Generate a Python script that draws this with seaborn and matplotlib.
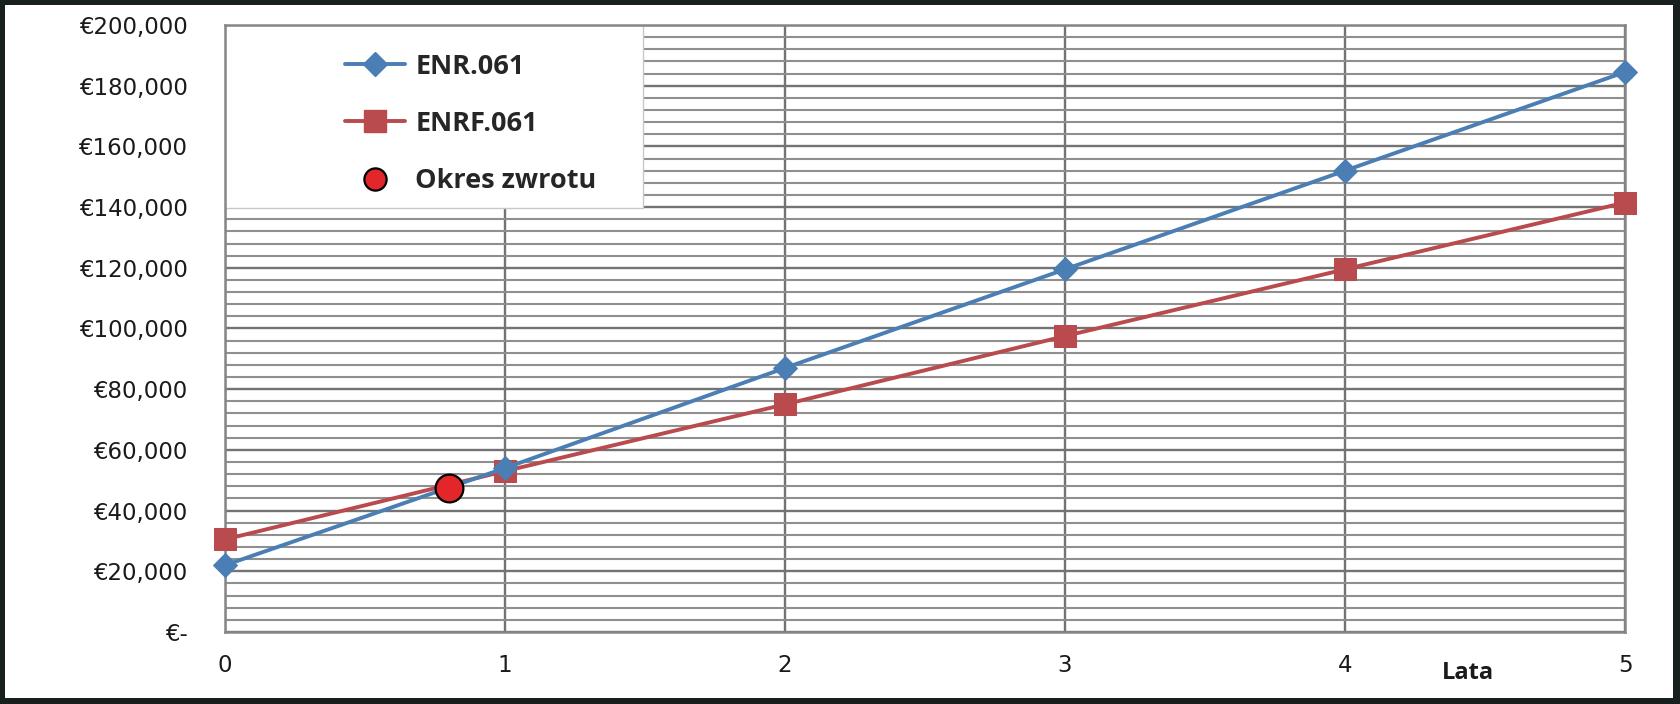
import numpy as np
import pandas as pd
import matplotlib
matplotlib.use("Agg")
import matplotlib.pyplot as plt
import matplotlib.ticker as mticker
from matplotlib.patches import Rectangle
from matplotlib.lines import Line2D
import seaborn as sns

years = [0, 1, 2, 3, 4, 5]
enr = [22000, 54000, 87000, 119500, 152000, 184500]
enrf = [30500, 53000, 75000, 97500, 119500, 141500]
payback_x = [0.8]
payback_y = [47600]

BLUE = "#4a7eb4"
RED = "#b94b4e"
DOT = "#e3262a"
FRAME = "#17201f"

sns.set_theme(style="white")
plt.rcParams["font.family"] = ["DejaVu Sans"]
plt.rcParams["font.sans-serif"] = ["DejaVu Sans"]

fig = plt.figure(figsize=(16.8, 7.04), dpi=100, facecolor=FRAME)
fig.patches.append(Rectangle((5 / 1680, 6 / 704), 1 - 12 / 1680, 1 - 11 / 704,
                             transform=fig.transFigure, facecolor="white",
                             edgecolor="none", zorder=-5))
ax = fig.add_axes([225 / 1680, 72 / 704, 1400 / 1680, 607 / 704])
ax.set_facecolor("white")
ax.set_axisbelow(True)

df = pd.DataFrame({"Lata": years, "ENR.061": enr, "ENRF.061": enrf})
sns.lineplot(data=df, x="Lata", y="ENR.061", ax=ax, color=BLUE, linewidth=2.8,
             marker="D", markersize=12.5, markeredgecolor=BLUE, clip_on=False, zorder=4)
sns.lineplot(data=df, x="Lata", y="ENRF.061", ax=ax, color=RED, linewidth=2.8,
             marker="s", markersize=16, markeredgecolor=RED, clip_on=False, zorder=3)
sns.scatterplot(x=payback_x, y=payback_y, ax=ax, s=400, color=DOT,
                edgecolor="black", linewidth=1.6, zorder=5)

ax.set_xlim(0, 5)
ax.set_ylim(0, 200000)
ax.set_xticks(years)
ax.yaxis.set_major_locator(mticker.MultipleLocator(20000))
ax.yaxis.set_minor_locator(mticker.MultipleLocator(4000))
ax.yaxis.set_major_formatter(mticker.FuncFormatter(
    lambda v, p: "€-" if v == 0 else f"€{int(v):,}"))
ax.grid(True, which="major", axis="both", color="#737373", linewidth=1.7)
ax.grid(True, which="minor", axis="y", color="#8f8f8f", linewidth=1.5)
ax.tick_params(axis="y", which="both", length=0, pad=27, labelsize=16.5, colors="#1a1a1a")
ax.tick_params(axis="x", length=0, pad=16, labelsize=16.5, colors="#1a1a1a")
for lbl in ax.get_xticklabels() + ax.get_yticklabels():
    lbl.set_fontfamily("DejaVu Sans")
ax.set_xlabel("")
ax.set_ylabel("")
for s in ax.spines.values():
    s.set_color("#868686")
    s.set_linewidth(1.8)

# white box behind the legend
ax.add_patch(Rectangle((0, 0.6985), 0.2986, 0.3015, transform=ax.transAxes,
                       facecolor="white", edgecolor="#c8c8c8", linewidth=1.0, zorder=1.5))

# inward ticks on the left axis (visible over the legend box)
ax_t = fig.add_axes(ax.get_position(), frameon=False, sharey=ax)
ax_t.patch.set_visible(False)
ax_t.set_xticks([])
ax_t.tick_params(axis="y", which="both", direction="in", length=6, width=1.3,
                 color="#868686", labelleft=False)

handles = [
    Line2D([], [], color=BLUE, linewidth=2.8, marker="D", markersize=12.5),
    Line2D([], [], color=RED, linewidth=2.8, marker="s", markersize=16),
    Line2D([], [], color="none", marker="o", markersize=16,
           markerfacecolor=DOT, markeredgecolor="black", markeredgewidth=1.6),
]
ax.legend(handles, ["ENR.061", "ENRF.061", "Okres zwrotu"], loc="upper left",
          bbox_to_anchor=(0.076, 0.975), frameon=False, borderpad=0,
          handlelength=2.2, handletextpad=0.4, labelspacing=1.15,
          prop={"family": "Open Sans", "weight": "bold", "size": 19.5})

ax.text(0.888, -0.068, "Lata", transform=ax.transAxes, ha="center", va="center",
        fontsize=17, fontweight="bold", family="Open Sans", color="#1a1a1a")

fig.savefig("out.png", dpi=100, facecolor=FRAME)
